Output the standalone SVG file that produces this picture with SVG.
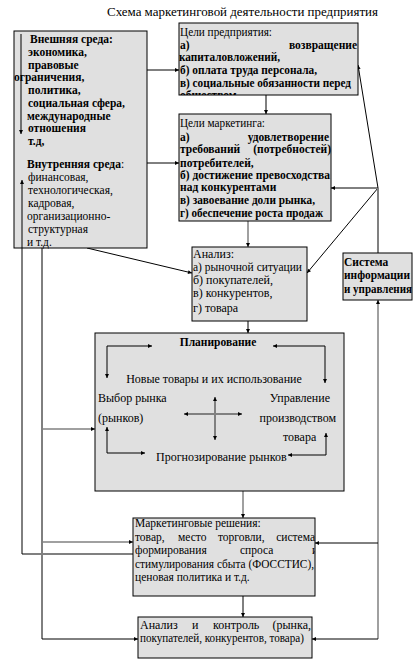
<svg xmlns="http://www.w3.org/2000/svg" width="419" height="663" viewBox="0 0 419 663">
<style>
text{font-family:"Liberation Serif","Times New Roman",serif;font-size:12px;fill:#000}
.b{font-weight:bold;font-size:11.5px}
.s{font-size:11.5px}
.box{fill:#e0e0e0;stroke:#000;stroke-width:1}
.ln{stroke:#000;stroke-width:1;fill:none}
.gl{stroke:#808080;stroke-width:2;fill:none}
.gt{stroke:#808080;stroke-width:1.5;fill:none}
.ar{marker-end:url(#a)}
.ab{marker-start:url(#a);marker-end:url(#a)}
</style>
<defs>
<marker id="a" viewBox="0 0 6 6" refX="6" refY="3" markerWidth="5" markerHeight="4" orient="auto-start-reverse" markerUnits="userSpaceOnUse"><path d="M0,0L6,3L0,6z" fill="#000"/></marker>
<clipPath id="c1"><rect x="179" y="23" width="179" height="72"/></clipPath>
<clipPath id="c2"><rect x="133" y="518" width="182" height="78"/></clipPath>
</defs>
<text x="107" y="16" font-size="13" textLength="271" lengthAdjust="spacingAndGlyphs">Схема маркетинговой деятельности предприятия</text>

<g id="connectors">
<path class="ln ar" d="M147,70H179"/>
<path class="ln ar" d="M147,163H179"/>
<path class="ln ar" d="M266,95V114"/>
<path class="gt ar" d="M248,221V247"/>
<path class="ln ar" d="M87,248L192,273"/>
<path class="ln ar" d="M248,321V333"/>
<path class="gt ar" d="M243,491V518"/>
<path class="ln ar" d="M243,596V617"/>
<path class="ln ar" d="M378,188L358,65"/>
<path class="ln ar" d="M378,188H331"/>
<path class="ln ar" d="M378,188L307,273"/>
<path class="gl" d="M378,188V253"/>
<path class="gt ar" d="M378,639V300"/>
<path class="ln ar" d="M378,543H315"/>
<path class="ln ar" d="M378,639H312"/>
<path class="ln ar" d="M42,248V639H138"/>
<path class="gt ar" d="M42,542H133"/>
<path class="gt ar" d="M42,429H95"/>
<path class="gl" d="M133,554H22"/>
<path class="ln" d="M22,554V248"/>
</g>

<g id="env">
<rect class="box" x="14" y="31" width="133" height="217"/>
<path class="ln ar" d="M21,34V134"/>
<path class="ln ar" d="M22,248V180"/>
<text class="b" x="30" y="43">Внешняя среда:</text>
<text class="b" x="28" y="56">экономика,</text>
<text class="b" x="28" y="69">правовые</text>
<text class="b" x="14" y="81">ограничения,</text>
<text class="b" x="28" y="94">политика,</text>
<text class="b" x="28" y="107">социальная сфера,</text>
<text class="b" x="27" y="120">международные</text>
<text class="b" x="28" y="132">отношения</text>
<text class="b" x="28" y="145">т.д,</text>
<text class="s" x="27" y="168"><tspan class="b">Внутренняя среда</tspan>:</text>
<text class="s" x="28" y="181">финансовая,</text>
<text class="s" x="28" y="194">технологическая,</text>
<text class="s" x="28" y="207">кадровая,</text>
<text class="s" x="27" y="220">организационно-</text>
<text class="s" x="28" y="233">структурная</text>
<text class="s" x="27" y="246">и т.д.</text>
</g>

<g id="goals-enterprise">
<rect class="box" x="179" y="23" width="179" height="72"/>
<g clip-path="url(#c1)">
<text x="180" y="36" textLength="92" lengthAdjust="spacingAndGlyphs">Цели предприятия:</text>
<text class="b" x="180" y="49">а)</text>
<text class="b" x="357" y="49" text-anchor="end">возвращение</text>
<text class="b" x="179" y="61" textLength="101" lengthAdjust="spacingAndGlyphs">капиталовложений,</text>
<text class="b" x="180" y="74" textLength="137" lengthAdjust="spacingAndGlyphs">б) оплата труда персонала,</text>
<text class="b" x="180" y="87" textLength="171" lengthAdjust="spacingAndGlyphs">в) социальные обязанности перед</text>
<text class="b" x="180" y="99">обществом</text>
</g>
</g>

<g id="goals-marketing">
<rect class="box" x="179" y="114" width="152" height="107"/>
<text x="180" y="127" textLength="85" lengthAdjust="spacingAndGlyphs">Цели маркетинга:</text>
<text class="b" x="180" y="141">а)</text>
<text class="b" x="329" y="141" text-anchor="end">удовлетворение</text>
<text class="b" x="180" y="153">требований</text>
<text class="b" x="331" y="153" text-anchor="end">(потребностей)</text>
<text class="b" x="180" y="167">потребителей,</text>
<text class="b" x="180" y="179" textLength="150" lengthAdjust="spacingAndGlyphs">б) достижение превосходства</text>
<text class="b" x="180" y="191">над конкурентами</text>
<text class="b" x="180" y="204" textLength="135" lengthAdjust="spacingAndGlyphs">в) завоевание  доли рынка,</text>
<text class="b" x="180" y="217" textLength="143" lengthAdjust="spacingAndGlyphs">г) обеспечение роста продаж</text>
</g>

<g id="analysis">
<rect class="box" x="192" y="247" width="115" height="74"/>
<text x="193" y="258">Анализ:</text>
<text x="193" y="271" textLength="109" lengthAdjust="spacingAndGlyphs">а) рыночной ситуации</text>
<text x="193" y="284">б) покупателей,</text>
<text x="193" y="297">в) конкурентов,</text>
<text x="193" y="312">г) товара</text>
</g>

<g id="info-system">
<rect class="box" x="343" y="253" width="69" height="47"/>
<text class="b" x="344" y="266">Система</text>
<text class="b" x="344" y="279" textLength="66" lengthAdjust="spacingAndGlyphs">информации</text>
<text class="b" x="344" y="293" textLength="68" lengthAdjust="spacingAndGlyphs">и управления</text>
</g>

<g id="planning">
<rect class="box" x="95" y="333" width="249" height="158"/>
<text class="b" x="218" y="346" text-anchor="middle">Планирование</text>
<path class="ln ab" d="M107,378V346H152"/>
<path class="ln ab" d="M273,346H325V383"/>
<path class="ln ab" d="M107,427V453H145"/>
<path class="ln ab" d="M288,455H326V433"/>
<path class="gl ab" d="M184,414H242"/>
<path class="gl ab" d="M215,397V440"/>
<text x="214" y="383" text-anchor="middle">Новые товары и их использование</text>
<text x="98" y="402">Выбор рынка</text>
<text x="98" y="422">(рынков)</text>
<text x="330" y="402" text-anchor="end">Управление</text>
<text x="336" y="422" text-anchor="end">производством</text>
<text x="283" y="441">товара</text>
<text x="156" y="461">Прогнозирование рынков</text>
</g>

<g id="marketing-decisions">
<rect class="box" x="133" y="518" width="182" height="78"/>
<g clip-path="url(#c2)">
<text class="s" x="135" y="527">Маркетинговые решения:</text>
<text class="s" x="135" y="540.5">товар,</text>
<text class="s" x="178" y="540.5">место</text>
<text class="s" x="218" y="540.5">торговли,</text>
<text class="s" x="315" y="540.5" text-anchor="end">система</text>
<text class="s" x="135" y="554">формирования</text>
<text class="s" x="240" y="554">спроса</text>
<text class="s" x="312" y="554">и</text>
<text class="s" x="135" y="567.5" textLength="179" lengthAdjust="spacingAndGlyphs">стимулирования сбыта (ФОССТИС),</text>
<text class="s" x="135" y="581">ценовая политика и т.д.</text>
</g>
</g>

<g id="analysis-control">
<rect class="box" x="138" y="617" width="174" height="41"/>
<text x="140" y="629">Анализ</text>
<text x="192" y="629">и</text>
<text x="213" y="629">контроль</text>
<text x="311" y="629" text-anchor="end">(рынка,</text>
<text x="140" y="642" textLength="164" lengthAdjust="spacingAndGlyphs">покупателей, конкурентов, товара)</text>
</g>
</svg>
